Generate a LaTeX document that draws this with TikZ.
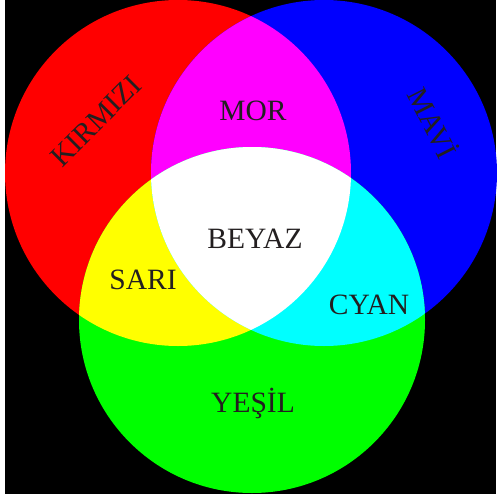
\documentclass[tikz,border=0pt]{standalone}
\usepackage{fontspec}
\setmainfont{Liberation Serif}
\definecolor{txt}{HTML}{231F20}
\definecolor{cR}{HTML}{FF0000}
\definecolor{cG}{HTML}{00FF00}
\definecolor{cB}{HTML}{0000FF}
\definecolor{cM}{HTML}{FF00FF}
\definecolor{cY}{HTML}{FFFF00}
\definecolor{cC}{HTML}{00FFFF}
\definecolor{cW}{HTML}{FFFFFF}
\begin{document}
\begin{tikzpicture}[x=1pt,y=-1pt,
  lbl/.style={text=txt,font=\fontsize{29.5}{31}\selectfont,inner sep=0pt,anchor=base}]
\useasboundingbox (0,0) rectangle (496,498);
\fill[white] (0,0) rectangle (496,498);
\fill[black] (5,0) rectangle (496,494);
\def\R{173}
\coordinate (cr) at (178,173);
\coordinate (cb) at (324,173);
\coordinate (cg) at (252,320);
\fill[cR] (cr) circle (\R);
\fill[cB] (cb) circle (\R);
\fill[cG] (cg) circle (\R);
\begin{scope}
  \clip (cr) circle (\R);
  \fill[cM] (cb) circle (\R);
  \fill[cY] (cg) circle (\R);
\end{scope}
\begin{scope}
  \clip (cb) circle (\R);
  \fill[cC] (cg) circle (\R);
\end{scope}
\begin{scope}
  \clip (cr) circle (\R);
  \clip (cb) circle (\R);
  \fill[cW] (cg) circle (\R);
\end{scope}
\node[lbl] (mor) at (253,120) {MOR};
\node[lbl] (beyaz) at (255,248) {BEYAZ};
\node[lbl] (sari) at (143,289) {SARI};
\node[lbl] (cyan) at (369,314) {CYAN};
\node[lbl] (yesil) at (253,412) {YEŞİL};
\node[lbl,anchor=center,rotate=45] (kirmizi) at (96,121) {KIRMIZI};
\node[lbl,anchor=center,rotate=-63] (mavi) at (434,122) {MAVİ};
\end{tikzpicture}
\end{document}
